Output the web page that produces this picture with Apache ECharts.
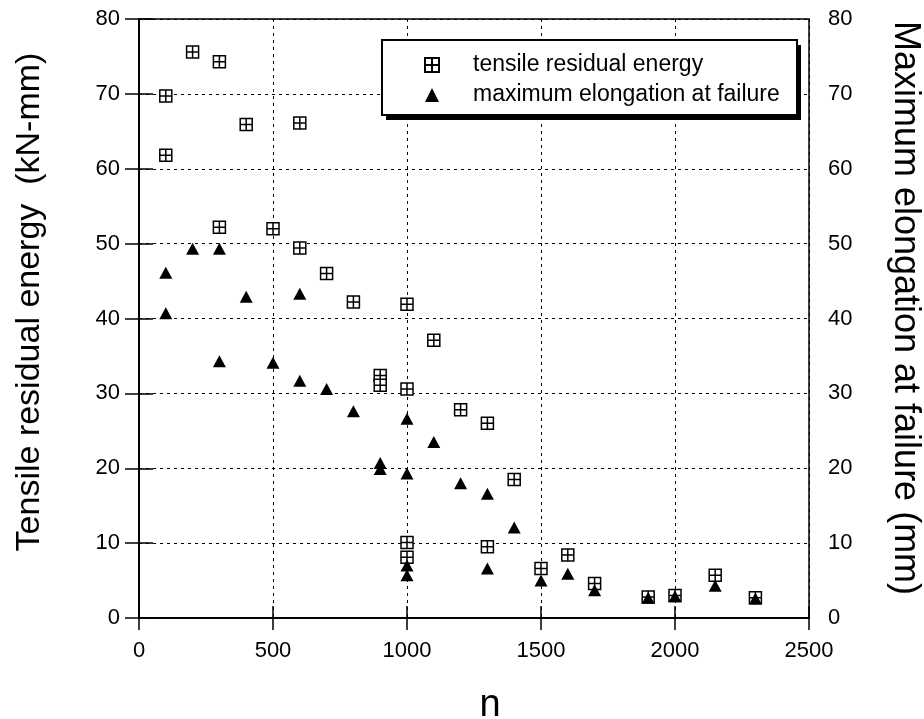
<!DOCTYPE html>
<html>
<head>
<meta charset="utf-8">
<script src="https://cdn.jsdelivr.net/npm/echarts@6/dist/echarts.min.js"></script>
<style>
  html, body { margin: 0; padding: 0; background: #fff; }
  #chart { width: 924px; height: 719px; }
</style>
</head>
<body>
<div id="chart"></div>
<script>
// Number of cycles n for each specimen
var energyN = [100, 100, 200, 300, 300, 400, 500, 600, 600, 700, 800, 900, 900, 1000, 1000, 1000, 1000, 1100, 1200, 1300, 1300, 1400, 1500, 1600, 1700, 1900, 2000, 2150, 2300];
// Tensile residual energy (kN-mm)
var energyVal = [69.7, 61.8, 75.6, 74.3, 52.2, 65.9, 52.0, 66.1, 49.4, 46.0, 42.2, 32.4, 31.1, 41.9, 30.6, 10.1, 8.1, 37.1, 27.8, 26.0, 9.5, 18.5, 6.6, 8.4, 4.6, 2.8, 3.0, 5.7, 2.7];

var elongN = [100, 100, 200, 300, 300, 400, 500, 600, 600, 700, 800, 900, 900, 1000, 1000, 1000, 1000, 1100, 1200, 1300, 1300, 1400, 1500, 1600, 1700, 1900, 2000, 2150, 2300];
// Maximum elongation at failure (mm)
var elongVal = [46.1, 40.7, 49.3, 49.3, 34.3, 42.9, 34.1, 43.3, 31.7, 30.6, 27.6, 20.7, 19.9, 26.6, 19.3, 7.0, 5.7, 23.5, 18.0, 16.6, 6.6, 12.1, 5.0, 5.9, 3.7, 2.7, 2.9, 4.3, 2.6];

var seriesNames = ['tensile residual energy', 'maximum elongation at failure'];
var leftTitle = 'Tensile residual energy  (kN-mm)';
var rightTitle = 'Maximum elongation at failure (mm)';
var xTitle = 'n';

function pairs(xs, ys) {
  return xs.map(function (x, i) { return [x, ys[i]]; });
}

var FONT = '"Liberation Sans", Arial, sans-serif';
var gridDash = {
  show: true,
  lineStyle: { color: '#000', width: 1, type: [3, 4] }
};
var tickLabel = {
  color: '#000', fontSize: 22, fontFamily: FONT,
  formatter: function (v) { return String(v); }
};
var axisLine = { show: true, lineStyle: { color: '#000', width: 1.5 } };
function innerTick(len) {
  return { show: true, inside: true, length: len, lineStyle: { color: '#000', width: 1.5 } };
}

var chart = echarts.init(document.getElementById('chart'), null, { renderer: 'canvas' });

chart.setOption({
  animation: false,
  backgroundColor: '#fff',
  grid: {
    left: 139, right: 115, top: 19, bottom: 101,
    containLabel: false,
    outerBoundsMode: 'none',
    show: true, borderColor: '#000', borderWidth: 1.5,
    backgroundColor: 'transparent'
  },
  xAxis: [{
    type: 'value', min: 0, max: 2500, interval: 500, position: 'bottom',
    axisLine: axisLine,
    axisTick: innerTick(12),
    axisLabel: Object.assign({ margin: 22 }, tickLabel),
    splitLine: gridDash,
    name: xTitle, nameLocation: 'middle', nameGap: 69,
    nameTextStyle: { color: '#000', fontSize: 38, fontFamily: FONT, padding: [0, 0, 0, 32] }
  }, {
    type: 'value', min: 0, max: 2500, interval: 500, position: 'top',
    axisLine: axisLine,
    axisTick: innerTick(12),
    axisLabel: { show: false },
    splitLine: { show: false }
  }],
  yAxis: [{
    type: 'value', min: 0, max: 80, interval: 10, position: 'left',
    axisLine: axisLine,
    axisTick: innerTick(14),
    axisLabel: Object.assign({ margin: 19 }, tickLabel),
    splitLine: gridDash
  }, {
    type: 'value', min: 0, max: 80, interval: 10, position: 'right',
    axisLine: axisLine,
    axisTick: innerTick(14),
    axisLabel: Object.assign({ margin: 19 }, tickLabel),
    splitLine: { show: false }
  }],
  legend: {
    orient: 'vertical',
    left: 424, top: 52,
    itemWidth: 14, itemHeight: 14, itemGap: 4,
    padding: 0,
    z: 10,
    selectedMode: false,
    textStyle: { color: '#000', fontSize: 23, fontFamily: FONT, lineHeight: 26, padding: [0, 0, 0, 29] },
    data: seriesNames
  },
  graphic: [
    // legend frame: solid drop shadow, then white box with black border
    {
      type: 'rect', z: 5,
      shape: { x: 386, y: 45, width: 415, height: 75 },
      style: { fill: '#000' }
    },
    {
      type: 'rect', z: 6,
      shape: { x: 382, y: 40, width: 415, height: 75 },
      style: { fill: '#fff', stroke: '#000', lineWidth: 2 }
    },
    {
      type: 'text', z: 5,
      x: 30, y: 302, rotation: Math.PI / 2,
      style: {
        text: leftTitle, fill: '#000', fontSize: 34, fontFamily: FONT,
        align: 'center', verticalAlign: 'middle'
      }
    },
    {
      type: 'text', z: 5,
      x: 905, y: 308, rotation: -Math.PI / 2,
      style: {
        text: rightTitle, fill: '#000', fontSize: 36, fontFamily: FONT,
        align: 'center', verticalAlign: 'middle'
      }
    }
  ],
  series: [{
    name: seriesNames[0],
    type: 'scatter',
    xAxisIndex: 0, yAxisIndex: 0,
    symbol: 'path://M0,0H10V10H0Z M5,0V10 M0,5H10',
    symbolSize: 12,
    itemStyle: { color: '#fff', borderColor: '#000', borderWidth: 1.5, opacity: 1 },
    data: pairs(energyN, energyVal)
  }, {
    name: seriesNames[1],
    type: 'scatter',
    xAxisIndex: 0, yAxisIndex: 1,
    symbol: 'triangle',
    symbolSize: [13, 12],
    itemStyle: { color: '#000', opacity: 1 },
    data: pairs(elongN, elongVal)
  }]
});
</script>
</body>
</html>
